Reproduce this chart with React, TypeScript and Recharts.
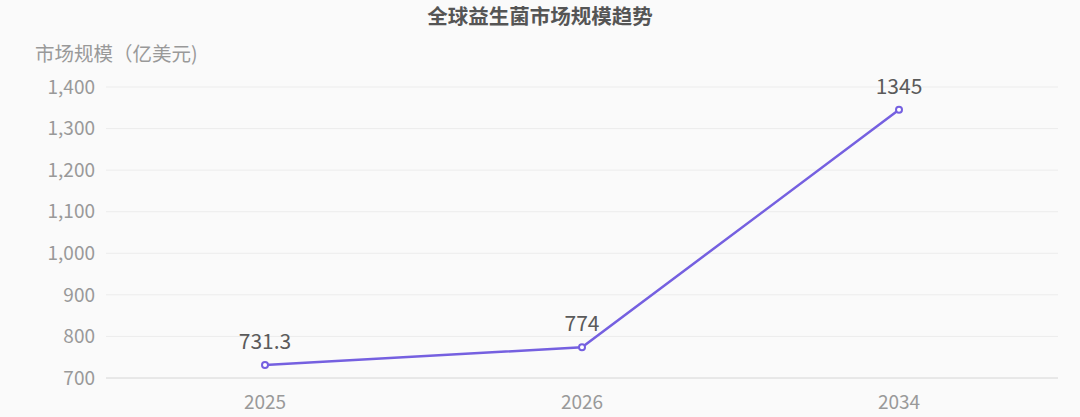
import { LineChart, Line, XAxis, YAxis, CartesianGrid, LabelList } from "recharts";

const years = ["2025", "2026", "2034"];
const marketSize = [731.3, 774, 1345];
const yTicks = [700, 800, 900, 1000, 1100, 1200, 1300, 1400];

const data = years.map((year, i) => ({ year, value: marketSize[i] }));

const FONT = '"Noto Sans CJK SC", "Noto Sans", sans-serif';
const LINE = "#7560e0";

const App = () => {
  return (
    <div
      style={{
        position: "absolute",
        left: 0,
        top: 0,
        width: 1080,
        height: 417,
        background: "#fafafa",
        fontFamily: FONT,
      }}
    >
      <div
        style={{
          position: "absolute",
          top: 0,
          left: 0,
          width: 1080,
          textAlign: "center",
          fontSize: 20.5,
          fontWeight: 700,
          color: "#555",
        }}
      >
        全球益生菌市场规模趋势
      </div>
      <div style={{ position: "absolute", top: 38, left: 35, fontSize: 19.5, color: "#999" }}>
        市场规模（亿美元)
      </div>
      <LineChart width={1080} height={417} data={data} margin={{ top: 87, right: 22, left: 0, bottom: 9 }}>
        <CartesianGrid vertical={false} stroke="#ececec" />
        <XAxis
          dataKey="year"
          padding={{ left: 159, right: 159 }}
          axisLine={{ stroke: "#dcdcdc" }}
          tickLine={false}
          tickMargin={12}
          tick={{ fontSize: 19, fill: "#999", fontFamily: FONT }}
        />
        <YAxis
          width={106}
          domain={[700, 1400]}
          ticks={yTicks}
          axisLine={false}
          tickLine={false}
          tickSize={0}
          tickMargin={11}
          tickFormatter={(v: number) => v.toLocaleString("en-US")}
          tick={{ fontSize: 19, fill: "#999", fontFamily: FONT }}
        />
        <Line
          type="linear"
          dataKey="value"
          stroke={LINE}
          strokeWidth={2.5}
          dot={{ r: 3, stroke: LINE, strokeWidth: 2, fill: "#fff" }}
          isAnimationActive={false}
        >
          <LabelList dataKey="value" position="top" offset={16} style={{ fontSize: 21, fill: "#5a5a5a", fontFamily: FONT }} />
        </Line>
      </LineChart>
    </div>
  );
};

export default App;
